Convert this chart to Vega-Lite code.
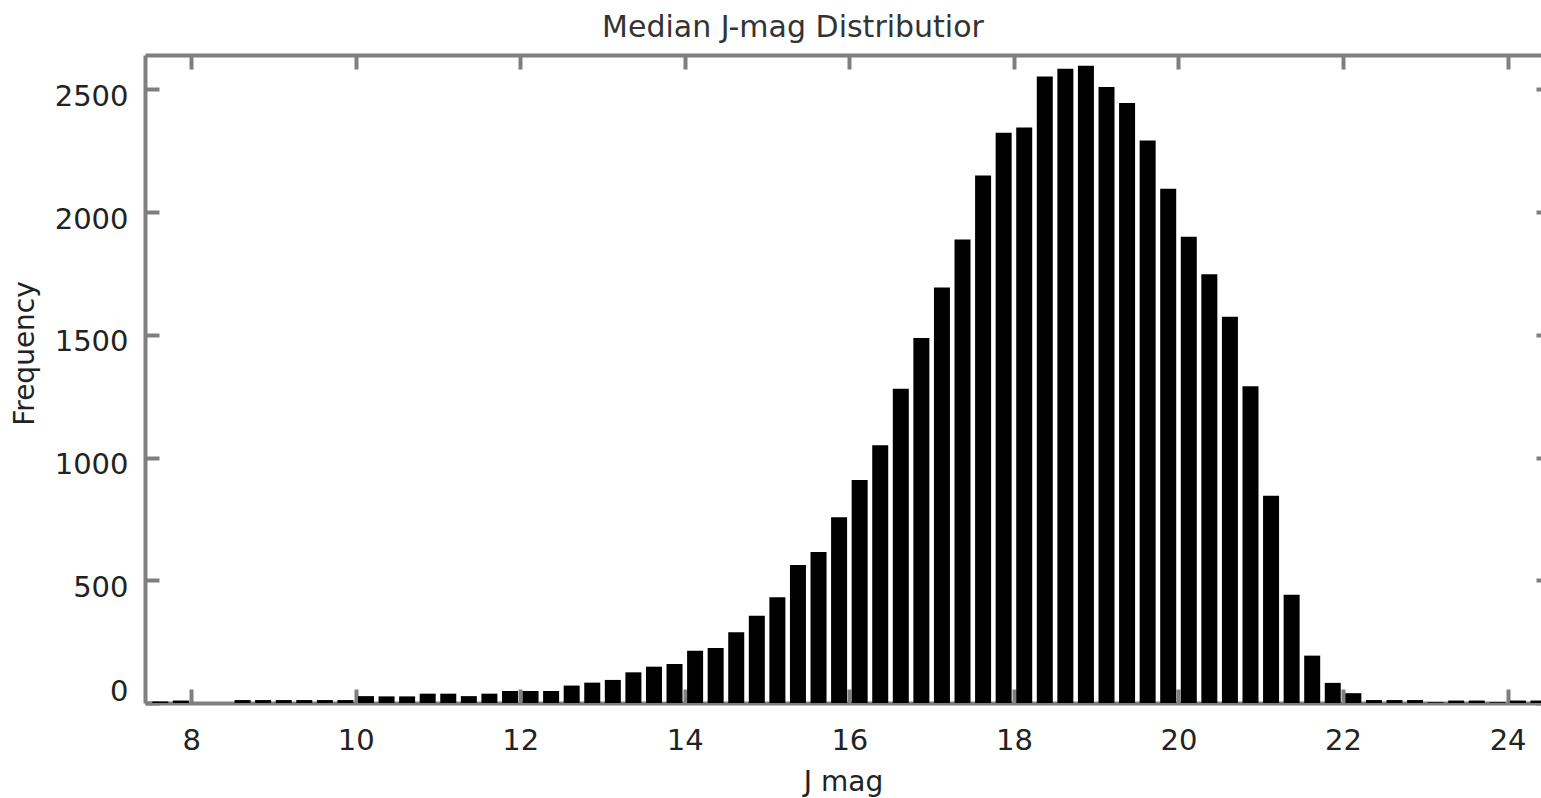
{
  "$schema": "https://vega.github.io/schema/vega-lite/v6.json",
  "width": 1396,
  "height": 648,
  "autosize": "none",
  "padding": {"left": 145, "top": 55, "right": 0, "bottom": 95},
  "background": "white",
  "title": {"text": "Median J-mag Distributior", "font": "DejaVu Sans", "fontSize": 30, "fontWeight": "normal", "color": "#333333", "anchor": "middle", "dx": -50, "baseline": "alphabetic", "offset": -14},
  "config": {"view": {"stroke": null}},
  "data": {"values": [
    {"mag": 7.625, "count": 6}, {"mag": 7.875, "count": 10}, {"mag": 8.125, "count": 0}, {"mag": 8.375, "count": 0},
    {"mag": 8.625, "count": 12}, {"mag": 8.875, "count": 12}, {"mag": 9.125, "count": 12}, {"mag": 9.375, "count": 12},
    {"mag": 9.625, "count": 12}, {"mag": 9.875, "count": 12}, {"mag": 10.125, "count": 28}, {"mag": 10.375, "count": 27},
    {"mag": 10.625, "count": 27}, {"mag": 10.875, "count": 38}, {"mag": 11.125, "count": 38}, {"mag": 11.375, "count": 28},
    {"mag": 11.625, "count": 38}, {"mag": 11.875, "count": 49}, {"mag": 12.125, "count": 49}, {"mag": 12.375, "count": 49},
    {"mag": 12.625, "count": 71}, {"mag": 12.875, "count": 83}, {"mag": 13.125, "count": 94}, {"mag": 13.375, "count": 125},
    {"mag": 13.625, "count": 148}, {"mag": 13.875, "count": 159}, {"mag": 14.125, "count": 213}, {"mag": 14.375, "count": 224},
    {"mag": 14.625, "count": 288}, {"mag": 14.875, "count": 355}, {"mag": 15.125, "count": 431}, {"mag": 15.375, "count": 562},
    {"mag": 15.625, "count": 615}, {"mag": 15.875, "count": 757}, {"mag": 16.125, "count": 909}, {"mag": 16.375, "count": 1050},
    {"mag": 16.625, "count": 1280}, {"mag": 16.875, "count": 1487}, {"mag": 17.125, "count": 1693}, {"mag": 17.375, "count": 1888},
    {"mag": 17.625, "count": 2149}, {"mag": 17.875, "count": 2323}, {"mag": 18.125, "count": 2345}, {"mag": 18.375, "count": 2552},
    {"mag": 18.625, "count": 2584}, {"mag": 18.875, "count": 2596}, {"mag": 19.125, "count": 2510}, {"mag": 19.375, "count": 2444},
    {"mag": 19.625, "count": 2292}, {"mag": 19.875, "count": 2095}, {"mag": 20.125, "count": 1900}, {"mag": 20.375, "count": 1747},
    {"mag": 20.625, "count": 1574}, {"mag": 20.875, "count": 1290}, {"mag": 21.125, "count": 844}, {"mag": 21.375, "count": 441},
    {"mag": 21.625, "count": 193}, {"mag": 21.875, "count": 82}, {"mag": 22.125, "count": 40}, {"mag": 22.375, "count": 12},
    {"mag": 22.625, "count": 12}, {"mag": 22.875, "count": 12}, {"mag": 23.125, "count": 3}, {"mag": 23.375, "count": 10},
    {"mag": 23.625, "count": 10}, {"mag": 23.875, "count": 3}, {"mag": 24.125, "count": 10}, {"mag": 24.375, "count": 10}
  ]},
  "layer": [
    {
      "mark": {"type": "bar", "color": "#000000", "size": 16},
      "encoding": {
        "x": {"field": "mag", "type": "quantitative",
          "scale": {"domain": [7.5, 24.345], "nice": false, "zero": false},
          "axis": {"orient": "bottom", "values": [8, 10, 12, 14, 16, 18, 20, 22, 24], "grid": false, "format": "d",
            "tickSize": -14, "tickWidth": 4, "tickColor": "#7f7f7f", "domainColor": "#7f7f7f", "domainWidth": 4,
            "labelFont": "DejaVu Sans", "labelFontSize": 29, "labelColor": "#222222", "labelPadding": 37, "labelFlush": false, "labelOverlap": false,
            "title": "J mag", "titleFont": "DejaVu Sans", "titleFontSize": 28, "titleFontWeight": "normal", "titleColor": "#222222",
            "titleY": 87, "titleBaseline": "alphabetic"}},
        "y": {"field": "count", "type": "quantitative",
          "scale": {"domain": [0, 2640], "nice": false},
          "axis": {"orient": "left", "values": [0, 500, 1000, 1500, 2000, 2500], "grid": false, "format": "d",
            "tickSize": -14, "tickWidth": 4, "tickColor": "#7f7f7f", "domainColor": "#7f7f7f", "domainWidth": 4,
            "labelFont": "DejaVu Sans", "labelFontSize": 29, "labelColor": "#222222", "labelPadding": 31, "labelBaseline": "middle",
            "labelOffset": {"condition": {"test": "datum.value == 0", "value": -12}, "value": 7},
            "labelFlush": false, "labelOverlap": false,
            "title": "Frequency", "titleFont": "DejaVu Sans", "titleFontSize": 28, "titleFontWeight": "normal", "titleColor": "#222222",
            "titleAngle": 270, "titleX": -112, "titleY": 298, "titleAlign": "center", "titleBaseline": "alphabetic"}}
      }
    },
    {
      "mark": {"type": "bar", "opacity": 0, "size": 16},
      "encoding": {
        "x": {"field": "mag", "type": "quantitative",
          "axis": {"orient": "top", "values": [8, 10, 12, 14, 16, 18, 20, 22, 24], "grid": false, "labels": false, "title": null,
            "tickSize": -14, "tickWidth": 4, "tickColor": "#7f7f7f", "domainColor": "#7f7f7f", "domainWidth": 4}},
        "y": {"field": "count", "type": "quantitative",
          "axis": {"orient": "right", "values": [0, 500, 1000, 1500, 2000, 2500], "grid": false, "labels": false, "title": null, "offset": 9,
            "tickSize": -14, "tickWidth": 4, "tickColor": "#7f7f7f", "domainColor": "#7f7f7f", "domainWidth": 4}}
      }
    }
  ],
  "resolve": {"axis": {"x": "independent", "y": "independent"}}
}
